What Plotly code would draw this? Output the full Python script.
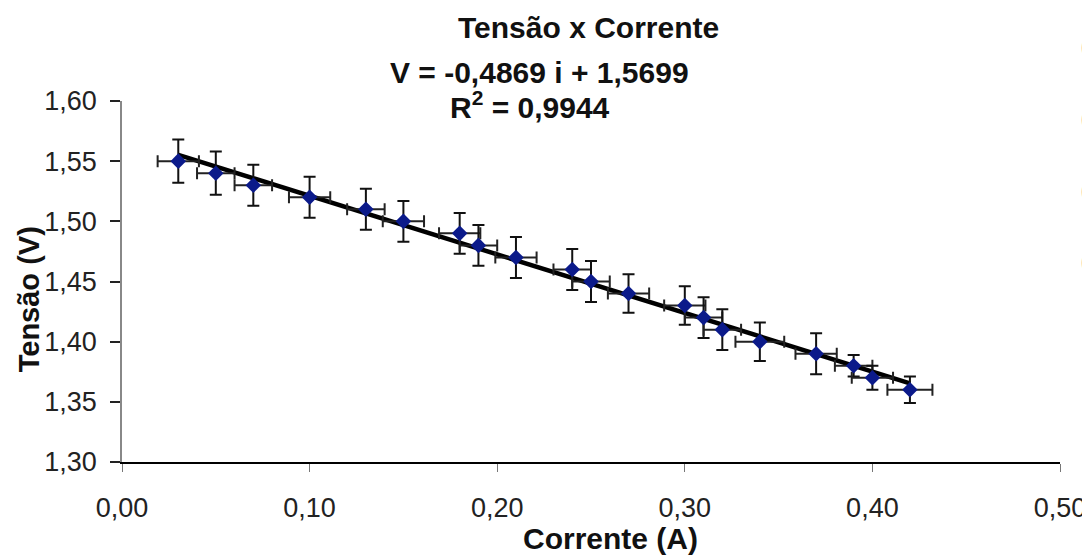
import plotly.graph_objects as go

# ---- data ----
corrente = [0.03, 0.05, 0.07, 0.10, 0.13, 0.15, 0.18, 0.19, 0.21, 0.24,
            0.25, 0.27, 0.30, 0.31, 0.32, 0.34, 0.37, 0.39, 0.40, 0.42]
tensao = [1.55, 1.54, 1.53, 1.52, 1.51, 1.50, 1.49, 1.48, 1.47, 1.46,
          1.45, 1.44, 1.43, 1.42, 1.41, 1.40, 1.39, 1.38, 1.37, 1.36]
erro_v = [0.018, 0.018, 0.017, 0.017, 0.017, 0.017, 0.017, 0.017, 0.017, 0.017,
          0.017, 0.016, 0.016, 0.017, 0.017, 0.016, 0.017, 0.009, 0.010, 0.011]
erro_i = [0.011, 0.010, 0.010, 0.011, 0.010, 0.011, 0.011, 0.010, 0.011, 0.010,
          0.010, 0.011, 0.011, 0.010, 0.010, 0.013, 0.011, 0.010, 0.011, 0.012]
slope = -0.4869
intercept = 1.5699
x_ticks = [0.0, 0.1, 0.2, 0.3, 0.4, 0.5]
y_ticks = [1.30, 1.35, 1.40, 1.45, 1.50, 1.55, 1.60]
side_labels = ["0,8", "0,6", "0,4", "0,2"]

title_txt = "Tensão x Corrente"
eq_txt = "V = -0,4869 i + 1,5699"
r2_txt = "R<sup>2</sup> = 0,9944"
xlabel = "Corrente (A)"
ylabel = "Tensão (V)"

trend_x = [min(corrente), max(corrente)]
trend_y = [slope * v + intercept for v in trend_x]

FONT = "Liberation Sans, Arial, sans-serif"

fig = go.Figure()
fig.add_trace(go.Scatter(
    x=trend_x, y=trend_y, mode="lines",
    line=dict(color="black", width=4.5), showlegend=False, hoverinfo="skip"))
fig.add_trace(go.Scatter(
    x=corrente, y=tensao, mode="markers",
    marker=dict(symbol="diamond", size=12, color="#0b1a8a"),
    error_y=dict(type="data", array=erro_v, visible=True, color="#111",
                 thickness=2, width=6),
    error_x=dict(type="data", array=erro_i, visible=True, color="#222",
                 thickness=2, width=6),
    showlegend=False, cliponaxis=False))

# page-pixel geometry of the plot area (page has an 8px body offset)
OFF = 8
L, R, T, B = 122, 1060, 100.7, 461.7
W, H = R - L, B - T
def px(x):
    return (x - L) / W
def py(y):
    return (B - y) / H

ann = [
    dict(text="<b>%s</b>" % title_txt, x=px(588), y=py(27)),
    dict(text="<b>%s</b>" % eq_txt, x=px(539), y=py(72)),
    dict(text="<b>%s</b>" % r2_txt, x=px(530), y=py(105)),
    dict(text="<b>%s</b>" % xlabel, x=px(610), y=py(538)),
]
for a in ann:
    fig.add_annotation(text=a["text"], x=a["x"], y=a["y"], xref="paper", yref="paper",
                       showarrow=False, xanchor="center", yanchor="middle",
                       font=dict(family=FONT, size=30, color="#111"))
fig.add_annotation(text="<b>%s</b>" % ylabel, x=px(29), y=py(299), xref="paper", yref="paper",
                   showarrow=False, textangle=-90, xanchor="center", yanchor="middle",
                   font=dict(family=FONT, size=29, color="#111"))
for lab, yy in zip(side_labels, [48, 120, 192, 263]):
    fig.add_annotation(text=lab, x=px(1079), y=py(yy), xref="paper", yref="paper",
                       showarrow=False, xanchor="left", yanchor="middle",
                       font=dict(family=FONT, size=25, color="#444"))

fig.update_layout(
    width=1090, height=558,
    margin=dict(l=L - OFF, r=1090 - (R - OFF), t=T - OFF, b=558 - (B - OFF), pad=0),
    paper_bgcolor="white", plot_bgcolor="white",
    separators=",.",
    font=dict(family=FONT, size=27, color="#222"),
    showlegend=False,
)
fig.update_xaxes(
    range=[0, 0.5], tickvals=x_ticks, tickformat=".2f",
    showgrid=False, zeroline=False,
    showline=True, linecolor="black", linewidth=2,
    ticks="outside", ticklen=8, tickwidth=1, tickcolor="#777",
    tickfont=dict(family=FONT, size=27, color="#222"),
    ticklabelstandoff=13,
)
fig.update_yaxes(
    range=[1.30, 1.60], tickvals=y_ticks, tickformat=".2f",
    showgrid=False, zeroline=False,
    showline=True, linecolor="#888", linewidth=1.5,
    ticks="outside", ticklen=10, tickwidth=2, tickcolor="#222",
    tickfont=dict(family=FONT, size=27, color="#222"),
    ticklabelstandoff=8,
)

fig.write_html("out.html")
